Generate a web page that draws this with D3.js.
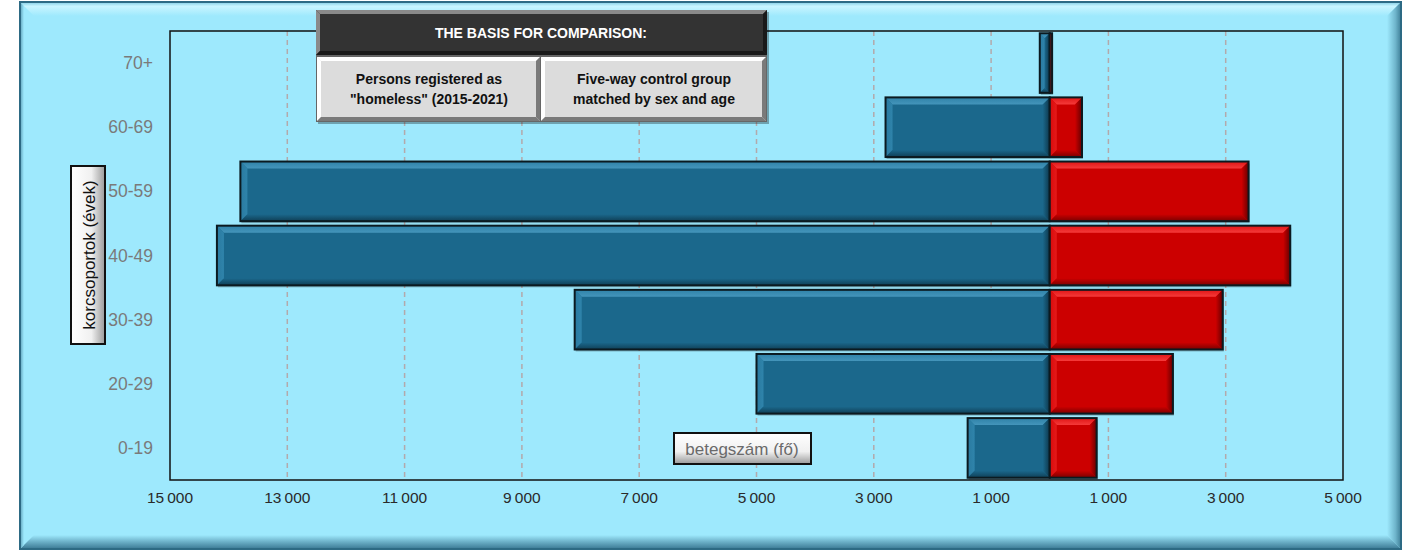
<!DOCTYPE html>
<html><head><meta charset="utf-8">
<script src="https://cdn.jsdelivr.net/npm/d3@7"></script>
<style>html,body{margin:0;padding:0;background:#fff;}svg{display:block;}</style>
</head><body>
<svg id="c" width="1418" height="554"></svg>
<script>
const categories = ["0-19","20-29","30-39","40-49","50-59","60-69","70+"];
const homeless = [1400, 5000, 8100, 14200, 13800, 2800, 170];
const control = [800, 2100, 2950, 4100, 3390, 550, 40];
const tickValues = [-15000,-13000,-11000,-9000,-7000,-5000,-3000,-1000,1000,3000,5000];
const legendTitle = "THE BASIS FOR COMPARISON:";
const legendLeft = ["Persons registered as", "\"homeless\" (2015-2021)"];
const legendRight = ["Five-way control group", "matched by sex and age"];
const yTitle = "korcsoportok (évek)";
const xTitle = "betegszám (fő)";

const svg = d3.select("#c");
const defs = svg.append("defs");
const F = "'Liberation Sans', Arial, sans-serif";

// frame
const fx0=20, fx1=1401, fy0=2, fy1=549;
svg.append("rect").attr("x",fx0).attr("y",fy0).attr("width",fx1-fx0).attr("height",fy1-fy0).attr("fill","#9EE9FD");
const gTop = defs.append("linearGradient").attr("id","gTop").attr("x1",0).attr("y1",0).attr("x2",0).attr("y2",1);
gTop.append("stop").attr("offset",0).attr("stop-color","#7fcbe3");
gTop.append("stop").attr("offset",0.3).attr("stop-color","#c9f5ff");
gTop.append("stop").attr("offset",1).attr("stop-color","#9EE9FD");
const gRight = defs.append("linearGradient").attr("id","gRight").attr("x1",0).attr("y1",0).attr("x2",1).attr("y2",0);
gRight.append("stop").attr("offset",0).attr("stop-color","#9EE9FD");
gRight.append("stop").attr("offset",0.6).attr("stop-color","#6fb5cc");
gRight.append("stop").attr("offset",1).attr("stop-color","#3f7f98");
const gBot = defs.append("linearGradient").attr("id","gBot").attr("x1",0).attr("y1",0).attr("x2",0).attr("y2",1);
gBot.append("stop").attr("offset",0).attr("stop-color","#9EE9FD");
gBot.append("stop").attr("offset",0.5).attr("stop-color","#6aaec6");
gBot.append("stop").attr("offset",1).attr("stop-color","#3a7893");
const gLeft = defs.append("linearGradient").attr("id","gLeft").attr("x1",0).attr("y1",0).attr("x2",1).attr("y2",0);
gLeft.append("stop").attr("offset",0).attr("stop-color","#5d9fb8");
gLeft.append("stop").attr("offset",1).attr("stop-color","#9EE9FD");
const bw=14;
svg.append("polygon").attr("points",`${fx0},${fy0} ${fx1},${fy0} ${fx1-bw},${fy0+bw} ${fx0+bw},${fy0+bw}`).attr("fill","url(#gTop)");
svg.append("polygon").attr("points",`${fx1},${fy0} ${fx1},${fy1} ${fx1-bw},${fy1-bw} ${fx1-bw},${fy0+bw}`).attr("fill","url(#gRight)");
svg.append("polygon").attr("points",`${fx0},${fy1} ${fx1},${fy1} ${fx1-bw},${fy1-bw} ${fx0+bw},${fy1-bw}`).attr("fill","url(#gBot)");
svg.append("polygon").attr("points",`${fx0},${fy0} ${fx0+4},${fy0+4} ${fx0+4},${fy1-4} ${fx0},${fy1}`).attr("fill","url(#gLeft)");
svg.append("rect").attr("x",fx0).attr("y",fy0).attr("width",fx1-fx0).attr("height",fy1-fy0).attr("fill","none").attr("stroke","#2d6a84").attr("stroke-width",2);

// plot area
const px0=170, px1=1343, py0=31, py1=480;
const x = d3.scaleLinear().domain([-15000,5000]).range([px0,px1]);
const y = d3.scaleBand().domain(categories.slice().reverse()).range([py0,py1]).paddingInner(0.07).paddingOuter(0.035);

// gridlines
svg.append("g").selectAll("line").data(tickValues.filter(v=>v>-15000 && v<5000)).join("line")
  .attr("x1",d=>x(d)).attr("x2",d=>x(d)).attr("y1",py0).attr("y2",py1)
  .attr("stroke","#b3a9ab").attr("stroke-width",1.5).attr("stroke-dasharray","5,4");

// bars with bevel (gradients for softer look)
function mkGrad(id, dir, c1, c2) {
  const g = defs.append("linearGradient").attr("id",id);
  if (dir==="v") g.attr("x1",0).attr("y1",0).attr("x2",0).attr("y2",1); else g.attr("x1",0).attr("y1",0).attr("x2",1).attr("y2",0);
  g.append("stop").attr("offset",0).attr("stop-color",c1);
  g.append("stop").attr("offset",1).attr("stop-color",c2);
}
function bevelBar(g, x0, x1, y0, y1, c) {
  const w=x1-x0, h=y1-y0;
  const b=Math.max(0, Math.min(7, w/2, h/2));
  g.append("rect").attr("x",x0+1).attr("y",y0+2).attr("width",w).attr("height",h).attr("fill","rgba(0,0,0,0.25)");
  g.append("rect").attr("x",x0).attr("y",y0).attr("width",w).attr("height",h).attr("fill",c.base);
  g.append("polygon").attr("points",`${x0},${y0} ${x1},${y0} ${x1-b},${y0+b} ${x0+b},${y0+b}`).attr("fill",`url(#${c.id}T)`);
  g.append("polygon").attr("points",`${x0},${y0} ${x0+b},${y0+b} ${x0+b},${y1-b} ${x0},${y1}`).attr("fill",`url(#${c.id}L)`);
  g.append("polygon").attr("points",`${x0},${y1} ${x1},${y1} ${x1-b},${y1-b} ${x0+b},${y1-b}`).attr("fill",`url(#${c.id}B)`);
  g.append("polygon").attr("points",`${x1},${y0} ${x1},${y1} ${x1-b},${y1-b} ${x1-b},${y0+b}`).attr("fill",`url(#${c.id}R)`);
  g.append("rect").attr("x",x0).attr("y",y0).attr("width",w).attr("height",h).attr("fill","none").attr("stroke","#0b1a20").attr("stroke-width",2);
}
const blue={id:"bl",base:"#1b688c"};
const red={id:"rd",base:"#cc0000"};
mkGrad("blT","v","#2f82a8","#4495bb"); mkGrad("blL","h","#2a7aa0","#2f84ab");
mkGrad("blB","v","#1b688c","#0f3f56"); mkGrad("blR","h","#1b688c","#0d364a");
mkGrad("rdT","v","#e01515","#f53a3a"); mkGrad("rdL","h","#d80a0a","#e41a1a");
mkGrad("rdB","v","#cc0000","#7a0000"); mkGrad("rdR","h","#cc0000","#660000");
const bars = svg.append("g");
categories.forEach((cat,i)=>{
  const y0=y(cat), y1=y0+y.bandwidth();
  bevelBar(bars, x(-homeless[i]), x(0), y0, y1, blue);
  bevelBar(bars, x(0), x(control[i]), y0, y1, red);
});

// plot border
svg.append("rect").attr("x",px0).attr("y",py0).attr("width",px1-px0).attr("height",py1-py0)
  .attr("fill","none").attr("stroke","#111").attr("stroke-width",1.5);

// y labels
svg.append("g").selectAll("text").data(categories).join("text")
  .attr("x",153).attr("y",d=>y(d)+y.bandwidth()/2).attr("dy","0.35em")
  .attr("text-anchor","end").attr("font-family",F).attr("font-size",17.5).attr("fill","#7a7a7a").text(d=>d);

// x tick labels
const fmt = v => d3.format(",")(Math.abs(v)).replace(/,/g,"\u2009");
svg.append("g").selectAll("text").data(tickValues).join("text")
  .attr("x",d=>x(d)).attr("y",503).attr("text-anchor","middle")
  .attr("font-family",F).attr("font-size",15.5).attr("fill","#2a2a2a").text(fmt);

const gBtn = defs.append("linearGradient").attr("id","gBtn").attr("x1",0).attr("y1",0).attr("x2",1).attr("y2",0);
gBtn.append("stop").attr("offset",0).attr("stop-color","#ffffff");
gBtn.append("stop").attr("offset",0.6).attr("stop-color","#f0f0f0");
gBtn.append("stop").attr("offset",1).attr("stop-color","#9a9a9a");
const gBtnH = defs.append("linearGradient").attr("id","gBtnH").attr("x1",0).attr("y1",0).attr("x2",0).attr("y2",1);
gBtnH.append("stop").attr("offset",0).attr("stop-color","#ffffff");
gBtnH.append("stop").attr("offset",0.6).attr("stop-color","#f0f0f0");
gBtnH.append("stop").attr("offset",1).attr("stop-color","#9a9a9a");

// y title box
svg.append("rect").attr("x",71).attr("y",166).attr("width",34).attr("height",178).attr("fill","url(#gBtn)").attr("stroke","#111").attr("stroke-width",2);
svg.append("text").attr("transform","translate(89,255) rotate(-90)").attr("text-anchor","middle").attr("dy","0.35em")
  .attr("font-family",F).attr("font-size",17).attr("fill","#111").text(yTitle);

// x title box
svg.append("rect").attr("x",674).attr("y",433).attr("width",137).attr("height",31).attr("fill","url(#gBtnH)").attr("stroke","#111").attr("stroke-width",2);
svg.append("text").attr("x",742).attr("y",449).attr("dy","0.35em").attr("text-anchor","middle")
  .attr("font-family",F).attr("font-size",17).attr("fill","#6a6a6a").text(xTitle);

// legend
const L = svg.append("g");
L.append("rect").attr("x",318).attr("y",12).attr("width",451).attr("height",112).attr("fill","rgba(0,0,0,0.3)");
function cell(x0,y0,w,h,base,light,dark){
  const b=4, x1=x0+w, y1=y0+h;
  L.append("rect").attr("x",x0).attr("y",y0).attr("width",w).attr("height",h).attr("fill",base);
  L.append("polygon").attr("points",`${x0},${y0} ${x1},${y0} ${x1-b},${y0+b} ${x0+b},${y0+b}`).attr("fill",light);
  L.append("polygon").attr("points",`${x0},${y0} ${x0+b},${y0+b} ${x0+b},${y1-b} ${x0},${y1}`).attr("fill",light);
  L.append("polygon").attr("points",`${x0},${y1} ${x1},${y1} ${x1-b},${y1-b} ${x0+b},${y1-b}`).attr("fill",dark);
  L.append("polygon").attr("points",`${x1},${y0} ${x1},${y1} ${x1-b},${y1-b} ${x1-b},${y0+b}`).attr("fill",dark);
}
L.append("rect").attr("x",316).attr("y",10).attr("width",451).attr("height",112).attr("fill","#666");
cell(316,10,451,45,"#333333","#8a8a8a","#1a1a1a");
cell(317,57,223,64,"#dcdcdc","#ffffff","#7a7a7a");
cell(541,57,225,64,"#dcdcdc","#ffffff","#7a7a7a");
L.append("text").attr("x",541).attr("y",33).attr("dy","0.35em").attr("text-anchor","middle")
  .attr("font-family",F).attr("font-weight","bold").attr("font-size",14).attr("fill","#fff").text(legendTitle);
legendLeft.forEach((t,i)=>L.append("text").attr("x",429).attr("y",79+i*20).attr("dy","0.35em").attr("text-anchor","middle")
  .attr("font-family",F).attr("font-weight","bold").attr("font-size",14).attr("fill","#111").text(t));
legendRight.forEach((t,i)=>L.append("text").attr("x",654).attr("y",79+i*20).attr("dy","0.35em").attr("text-anchor","middle")
  .attr("font-family",F).attr("font-weight","bold").attr("font-size",14).attr("fill","#111").text(t));
</script>
</body></html>
